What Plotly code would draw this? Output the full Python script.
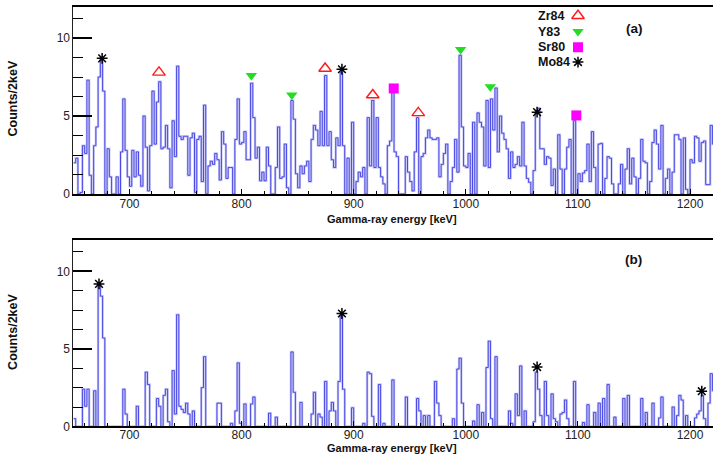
import plotly.graph_objects as go

# ---------------- data ----------------
E_START = 650          # keV, lower edge of first bin
BIN_W = 2              # keV per bin

counts_a = [
    2.0, 2.3, 0, 0.1, 3.1, 2.6, 7.3, 1.2, 0, 3.1,
    4.3, 7.5, 8.7, 6.6, 0, 2.9, 1.1, 0, 0, 1.1,
    0, 2.7, 6.1, 2.8, 1.1, 0.5, 2.8, 1.1, 2.7, 1.2,
    0.5, 5.0, 3.0, 0.2, 3.1, 6.6, 3.2, 5.9, 7.2, 2.9,
    3.0, 4.4, 2.9, 0.4, 4.7, 2.4, 8.2, 3.7, 3.5, 3.7,
    3.7, 1.2, 3.6, 3.9, 0.1, 3.5, 3.7, 0.8, 5.7, 0,
    1.8, 2.1, 1.9, 2.6, 2.2, 0.9, 4.0, 3.2, 1.0, 1.7,
    1.7, 0, 3.5, 6.1, 3.2, 3.3, 4.0, 2.2, 2.2, 7.1,
    4.9, 2.3, 3.0, 0.85, 1.4, 0.85, 3.0, 1.8, 0, 0,
    1.7, 4.3, 1.0, 1.1, 3.2, 0.4, 0, 6.0, 4.8, 1.3,
    0.4, 1.8, 1.3, 1.8, 2.1, 0.8, 3.5, 4.4, 4.1, 3.1,
    5.3, 3.1, 7.6, 3.1, 4.0, 2.2, 1.7, 3.6, 3.1, 7.8,
    3.1, 0, 2.3, 0, 4.6, 0, 0.8, 1.4, 1.1, 1.7,
    0, 4.9, 1.8, 6.0, 1.7, 4.9, 1.7, 1.1, 0.65, 0,
    3.1, 3.4, 6.5, 2.7, 2.4, 0, 0, 0, 2.4, 1.4,
    0.8, 0.2, 2.7, 4.9, 0, 2.4, 2.6, 3.6, 4.1, 3.6,
    3.5, 3.5, 3.6, 1.1, 1.9, 2.6, 3.2, 0, 0.8, 1.7,
    3.5, 1.4, 8.9, 4.3, 1.8, 1.7, 2.6, 0, 4.6, 0,
    5.2, 4.6, 4.3, 1.8, 6.0, 1.7, 6.1, 4.1, 6.8, 2.7,
    5.0, 3.9, 3.5, 2.9, 1.0, 2.7, 1.7, 1.9, 2.4, 1.8,
    4.6, 1.8, 1.0, 0.75, 0, 1.5, 5.2, 5.5, 2.9, 2.9,
    1.9, 2.4, 2.3, 0.55, 1.6, 0, 3.8, 1.6, 0, 1.6,
    3.0, 3.5, 0, 4.7, 0, 1.3, 0.8, 1.35, 1.5, 3.2,
    0.8, 4.0, 1.7, 0, 3.2, 3.25, 0, 1.0, 2.4, 2.3,
    0.65, 0, 0, 0.65, 1.9, 0, 1.6, 2.9, 0.65, 2.3,
    1.1, 0, 1.0, 3.5, 2.1, 2.0, 0, 0.8, 3.3, 4.1,
    3.2, 1.6, 4.4, 0, 1.0, 1.6, 0, 1.4, 3.8, 3.8,
    3.5, 0, 3.6, 0.3, 0, 2.2, 2.0, 3.7, 3.6, 2.1,
    3.3, 3.4, 0.6, 0.6, 4.4, 3.2,
]

counts_b = [
    0.5, 0, 0, 0, 2.4, 1.3, 2.4, 0, 0, 2.3,
    0, 9.1, 8.4, 5.7, 0, 0, 0, 0, 0, 0,
    0, 0, 2.4, 0.8, 0, 0, 0, 0, 1.3, 0,
    0, 0, 3.5, 2.7, 0, 0, 0, 1.8, 1.3, 0,
    2.0, 2.4, 0.3, 0, 3.6, 0.8, 7.2, 1.3, 1.1, 0.9,
    1.5, 0.8, 0, 1.0, 0, 0, 0, 2.5, 4.5, 0,
    0, 0, 0, 0, 1.5, 1.5, 0, 0, 0, 0,
    0.2, 0, 1.0, 4.1, 0.2, 0, 1.45, 0, 0, 1.45,
    1.9, 0, 0, 0, 0, 0, 0, 0.85, 0, 0,
    0.6, 0, 0, 0, 0, 0, 0, 4.8, 2.2, 0,
    0, 1.55, 0, 0, 0, 0, 0.8, 2.2, 0, 0.8,
    0.6, 0, 2.9, 0, 1.0, 1.55, 1.0, 0, 2.9, 7.1,
    2.4, 0, 0, 0, 1.2, 0, 0, 0, 0, 0.2,
    0, 3.5, 3.4, 0.65, 0, 0, 2.7, 0, 0.2, 0,
    0, 0, 3.0, 0, 0, 0, 0, 0, 1.9, 0,
    0, 0, 0, 1.8, 1.0, 0, 0.7, 0, 0.7, 0,
    0, 2.9, 1.5, 0.7, 0, 0, 0, 0, 0, 0.5,
    0, 3.7, 4.4, 1.5, 0, 0, 0, 0, 0.35, 0,
    1.4, 0, 0.9, 0, 3.8, 5.5, 0.5, 0, 4.5, 0,
    0, 0, 0, 0, 1.0, 0.2, 0, 2.1, 0.7, 3.9,
    0, 1.0, 0, 0, 0, 0.3, 3.5, 2.4, 0.7, 0,
    2.9, 0.7, 0, 2.1, 0.5, 0.3, 0, 0.8, 0.9, 1.7,
    0.5, 0, 0, 2.9, 0, 0, 0, 0.25, 0, 1.4,
    0, 0, 0.9, 0, 1.5, 0, 1.8, 0, 2.7, 0,
    0, 0.6, 0, 0, 0, 1.8, 0, 2.0, 0, 0,
    0, 0, 0, 1.8, 0, 0.9, 0, 0, 1.5, 0,
    0, 0.55, 1.9, 0, 0, 0, 0, 1.25, 0, 0.7,
    2.0, 1.7, 0, 0.7, 0, 0, 0, 0.55, 0.8, 1.0,
    2.0, 0.5, 0, 1.5, 3.4, 2.3,
]

# peak markers (energy keV, marker height)
zr84_a_e = [726.3, 874.5, 917.0, 957.6]
zr84_a_y = [7.8, 8.05, 6.35, 5.2]
y83_a_e = [808.7, 844.8, 995.4, 1021.8]
y83_a_y = [7.6, 6.35, 9.26, 6.88]
sr80_a_e = [935.7, 1098.6]
sr80_a_y = [6.77, 5.04]
mo84_a_e = [675.6, 889.5, 1063.6]
mo84_a_y = [8.7, 8.0, 5.25]
mo84_b_e = [672.8, 889.5, 1063.6, 1210.5]
mo84_b_y = [9.19, 7.28, 3.83, 2.27]

legend_names = ["Zr84", "Y83", "Sr80", "Mo84"]
x_ticks = [700, 800, 900, 1000, 1100, 1200]
y_ticks = [0, 5, 10]

# ---------------- figure ----------------
W, H = 713, 461
LINE = "#4a4ae4"
HALO = "rgba(150,150,235,0.5)"
FONT = "Liberation Sans, Arial, sans-serif"

X_LEFT_PX, PX_PER_KEV = 73.45, 1.121
A_TOP, A_BOT = 7, 197
B_TOP, B_BOT = 244, 433
X_MIN = 650
X_MAX = X_MIN + (W - X_LEFT_PX) / PX_PER_KEV


def px_to_a(px, py):
    """pixel position -> panel (a) data coordinates (for the hand-drawn key)"""
    return X_MIN + (px - X_LEFT_PX) / PX_PER_KEV, (A_BOT - py) / (A_BOT - A_TOP) * 12


def hist_xy(counts):
    xs = [E_START + BIN_W * i for i in range(len(counts))] + [E_START + BIN_W * len(counts)]
    ys = list(counts) + [counts[-1]]
    return xs, ys


fig = go.Figure()
for counts, xa, ya in [(counts_a, "x", "y"), (counts_b, "x2", "y2")]:
    xs, ys = hist_xy(counts)
    fig.add_trace(go.Scatter(x=xs, y=ys, mode="lines", line=dict(color=HALO, width=2.4, shape="hv"),
                             xaxis=xa, yaxis=ya, hoverinfo="skip"))
    fig.add_trace(go.Scatter(x=xs, y=ys, mode="lines", line=dict(color=LINE, width=1.0, shape="hv"),
                             xaxis=xa, yaxis=ya))

mk_zr = dict(symbol="triangle-up-open", size=11, color="#ff1a1a", line=dict(color="#ff1a1a", width=1.4))
mk_y = dict(symbol="triangle-down", size=10, color="#22dd22")
mk_sr = dict(symbol="square", size=10, color="#ff00ff")
mk_mo = dict(symbol="asterisk-open", size=9, color="black", line=dict(color="black", width=1.5))

fig.add_trace(go.Scatter(x=zr84_a_e, y=zr84_a_y, mode="markers", marker=mk_zr, xaxis="x", yaxis="y", cliponaxis=False))
fig.add_trace(go.Scatter(x=y83_a_e, y=y83_a_y, mode="markers", marker=mk_y, xaxis="x", yaxis="y", cliponaxis=False))
fig.add_trace(go.Scatter(x=sr80_a_e, y=sr80_a_y, mode="markers", marker=mk_sr, xaxis="x", yaxis="y", cliponaxis=False))
fig.add_trace(go.Scatter(x=mo84_a_e, y=mo84_a_y, mode="markers", marker=mk_mo, xaxis="x", yaxis="y", cliponaxis=False))
fig.add_trace(go.Scatter(x=mo84_b_e, y=mo84_b_y, mode="markers", marker=mk_mo, xaxis="x2", yaxis="y2", cliponaxis=False))

# key symbols (right of the names)
leg_y = [16, 32, 48, 63]
for yy, mk in zip(leg_y, [mk_zr, mk_y, mk_sr, mk_mo]):
    kx, ky = px_to_a(578, yy)
    fig.add_trace(go.Scatter(x=[kx], y=[ky], mode="markers", marker=mk, xaxis="x", yaxis="y", cliponaxis=False))


def xax(anchor, standoff):
    return dict(domain=[X_LEFT_PX / W, 1], range=[X_MIN, X_MAX], anchor=anchor, showgrid=False, zeroline=False,
                showline=True, linecolor="black", linewidth=2, mirror=True,
                ticks="inside", ticklen=5, tickwidth=1.3, tickcolor="black", ticklabelstandoff=standoff,
                tickvals=x_ticks, tickfont=dict(family=FONT, size=12, color="#222"),
                minor=dict(ticks="inside", dtick=20, ticklen=3, tickwidth=1, tickcolor="black"))


def yax(anchor, top, bot):
    return dict(domain=[1 - bot / H, 1 - top / H], range=[0, 12], anchor=anchor, showgrid=False, zeroline=False,
                showline=True, linecolor="#222", linewidth=1,
                ticks="inside", ticklen=19, tickwidth=2, tickcolor="black",
                tickvals=y_ticks, tickfont=dict(family=FONT, size=12, color="#222"),
                minor=dict(ticks="inside", dtick=1.25, ticklen=10, tickwidth=1.3, tickcolor="black"))


annotations = []
for yb in [229, 462]:
    annotations.append(dict(text="<b>Gamma-ray energy [keV]</b>", x=392 / W, y=1 - yb / H, xref="paper", yref="paper",
                            showarrow=False, font=dict(family=FONT, size=11, color="#111"),
                            xanchor="center", yanchor="bottom", borderpad=0))
for yc in [100, 337]:
    annotations.append(dict(text="<b>Counts/2keV</b>", x=13 / W, y=1 - yc / H, xref="paper", yref="paper",
                            showarrow=False, textangle=-90, font=dict(family=FONT, size=12.5, color="#111"),
                            xanchor="center", yanchor="middle"))
for name, yy in zip(legend_names, leg_y):
    annotations.append(dict(text="<b>%s</b>" % name, x=536 / W, y=1 - yy / H, xref="paper", yref="paper",
                            showarrow=False, font=dict(family=FONT, size=12.5, color="#111"),
                            xanchor="left", yanchor="middle"))
annotations.append(dict(text="<b>(a)</b>", x=634 / W, y=1 - 29 / H, xref="paper", yref="paper", showarrow=False,
                        font=dict(family=FONT, size=13.5, color="#111"), xanchor="center", yanchor="middle"))
annotations.append(dict(text="<b>(b)</b>", x=633 / W, y=1 - 264 / H, xref="paper", yref="paper", showarrow=False,
                        font=dict(family=FONT, size=13.5, color="#111"), xanchor="center", yanchor="middle"))

fig.update_layout(
    width=W, height=H, margin=dict(l=0, r=0, t=0, b=0),
    paper_bgcolor="white", plot_bgcolor="white", showlegend=False,
    xaxis=xax("y", -2), yaxis=yax("x", A_TOP, A_BOT),
    xaxis2=xax("y2", -4), yaxis2=yax("x2", B_TOP, B_BOT),
    annotations=annotations,
)

fig.write_html("out.html")
